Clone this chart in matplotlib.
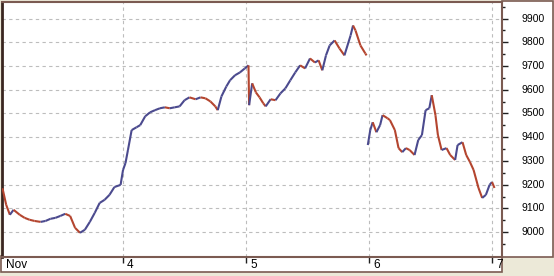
import matplotlib
matplotlib.use('Agg')
import matplotlib.pyplot as plt
from matplotlib.collections import LineCollection
from matplotlib.patches import Rectangle
from matplotlib.transforms import ScaledTranslation, blended_transform_factory
import numpy as np

# day offsets from Nov 3 and index level
t_a = [0.02, 0.05, 0.08, 0.11, 0.16, 0.20, 0.24, 0.28, 0.33, 0.37, 0.41, 0.45, 0.49,
       0.53, 0.57, 0.61, 0.65, 0.69, 0.73, 0.77, 0.81, 0.85, 0.89, 0.93, 0.98, 1.00,
       1.02, 1.04, 1.07, 1.11, 1.14, 1.18, 1.22, 1.26, 1.30, 1.34, 1.38, 1.42, 1.46,
       1.50, 1.54, 1.59, 1.63, 1.67, 1.71, 1.75, 1.77, 1.80, 1.84, 1.87, 1.91, 1.95,
       1.99, 2.02, 2.025, 2.05, 2.08, 2.11, 2.14, 2.16, 2.20, 2.24, 2.28, 2.32, 2.36,
       2.40, 2.44, 2.48, 2.52, 2.56, 2.59, 2.62, 2.65, 2.68, 2.72, 2.76, 2.80, 2.85,
       2.87, 2.89, 2.93, 2.97, 2.98]
p_a = [9185, 9115, 9073, 9094, 9073, 9060, 9052, 9047, 9043, 9047, 9056, 9060, 9068,
       9077, 9068, 9018, 8997, 9010, 9043, 9081, 9123, 9136, 9157, 9190, 9199, 9262,
       9291, 9346, 9430, 9442, 9451, 9488, 9505, 9514, 9522, 9526, 9522, 9526, 9530,
       9556, 9568, 9560, 9568, 9564, 9551, 9530, 9514, 9572, 9614, 9640, 9661, 9673,
       9690, 9703, 9535, 9627, 9589, 9568, 9543, 9530, 9560, 9556, 9585, 9606, 9640,
       9673, 9703, 9690, 9732, 9715, 9724, 9682, 9745, 9787, 9808, 9774, 9745, 9829,
       9871, 9850, 9787, 9753, 9745]

t_b = [2.99, 3.01, 3.03, 3.06, 3.09, 3.11, 3.15, 3.17, 3.21, 3.24, 3.27, 3.30, 3.33,
       3.37, 3.40, 3.43, 3.46, 3.49, 3.51, 3.54, 3.56, 3.59, 3.63, 3.66, 3.70, 3.72,
       3.76, 3.79, 3.82, 3.85, 3.89, 3.92, 3.95, 3.98, 4.00, 4.02]
p_b = [9367, 9430, 9463, 9421, 9451, 9493, 9480, 9472, 9430, 9354, 9337, 9354, 9346,
       9325, 9388, 9409, 9514, 9522, 9577, 9493, 9409, 9346, 9354, 9325, 9304, 9367,
       9379, 9325, 9296, 9262, 9186, 9144, 9157, 9199, 9211, 9186]

x_ticks = [1, 2, 3, 4]
x_labels = ['4', '5', '6', '7']
y_ticks = [9000, 9100, 9200, 9300, 9400, 9500, 9600, 9700, 9800, 9900]

up_color = '#4B4A8E'
down_color = '#B4452F'
frame = '#7B5B52'
W, H = 554, 276

fig = plt.figure(figsize=(W / 100, H / 100), dpi=100)
fig.patch.set_facecolor('#ECE9D8')

# white panels for the right axis and the date strip
fig.patches.append(Rectangle((502 / W, 19 / H), 51 / W, 256 / H, transform=fig.transFigure,
                             facecolor='white', edgecolor=frame, lw=1.2, zorder=-5))
fig.patches.append(Rectangle((1 / W, 4 / H), 501 / W, 16 / H, transform=fig.transFigure,
                             facecolor='white', edgecolor=frame, lw=1.2, zorder=-5))

ax = fig.add_axes([2 / W, 19 / H, 500 / W, 255 / H])
ax.set_facecolor('white')

for t, p in [(t_a, p_a), (t_b, p_b)]:
    pts = np.column_stack([t, p])
    segs = np.stack([pts[:-1], pts[1:]], axis=1)
    cols = [up_color if p[i + 1] >= p[i] else down_color for i in range(len(p) - 1)]
    ax.add_collection(LineCollection(segs, colors=cols, linewidths=1.5, zorder=3))

x0 = 0.016
ax.set_xlim(x0, x0 + 500 / 123)
ax.set_ylim(8895, 9970)

ax.set_xticks(x_ticks)
ax.set_xticklabels([])
ax.set_yticks(y_ticks)
ax.set_yticks(np.arange(8950, 9970, 100), minor=True)
ax.set_yticklabels([])
ax.yaxis.tick_right()

ax.grid(True, color='#BDBDBD', linestyle=(0, (3, 3)), linewidth=0.8)

ax.tick_params(axis='y', which='major', length=4, width=1, color='#202020')
ax.tick_params(axis='y', which='minor', length=2.5, width=1, color='#202020')
ax.tick_params(axis='x', length=4, width=1, color='#202020')

# axis labels drawn as text so they can sit where the original puts them
font = dict(family='Liberation Sans', color='black')
tr_y = blended_transform_factory(ax.transAxes, ax.transData) + \
    ScaledTranslation(20 / 100, 0, fig.dpi_scale_trans)
for v in y_ticks:
    ax.text(1, v, str(v), transform=tr_y, ha='left', va='center', fontsize=7.5,
            clip_on=False, **font)
tr_x = blended_transform_factory(ax.transData, ax.transAxes) + \
    ScaledTranslation(4 / 100, -2 / 100, fig.dpi_scale_trans)
for v, s in zip([x0] + x_ticks, ['Nov'] + x_labels):
    ax.text(v, 0, s, transform=tr_x, ha='left', va='top', fontsize=8.5,
            clip_on=False, **font)

for side in ['top', 'right', 'bottom']:
    ax.spines[side].set_color(frame)
    ax.spines[side].set_linewidth(1.5)
ax.spines['left'].set_color('#3A2620')
ax.spines['left'].set_linewidth(2)

fig.savefig('out.png', dpi=100, facecolor=fig.get_facecolor())
